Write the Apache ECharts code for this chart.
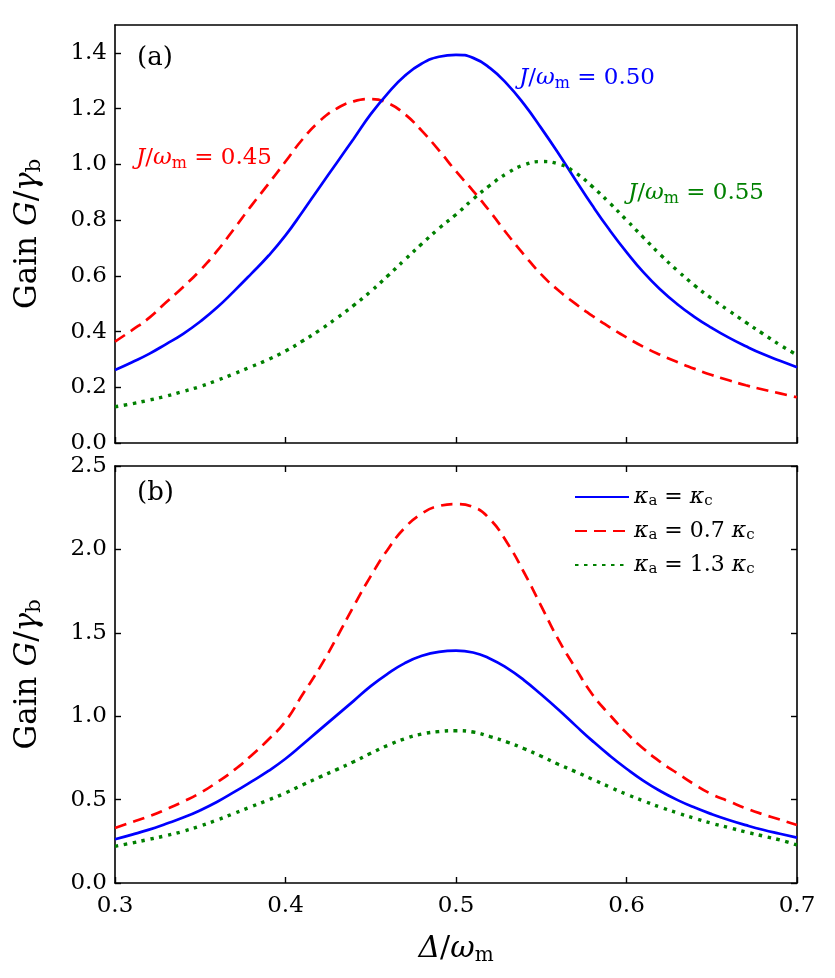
<!DOCTYPE html>
<html>
<head>
<meta charset="utf-8">
<script src="https://cdn.jsdelivr.net/npm/echarts@6/dist/echarts.min.js"></script>
<style>
html,body{margin:0;padding:0;background:#fff;}
#chart{width:835px;height:978px;}
</style>
</head>
<body>
<div id="chart"></div>
<script>
// x values (Δ/ωm)
var xVals = [0.30,0.31,0.32,0.33,0.34,0.35,0.36,0.37,0.38,0.39,0.40,0.41,0.42,0.43,0.44,0.45,0.46,0.47,0.48,0.49,0.50,
             0.51,0.52,0.53,0.54,0.55,0.56,0.57,0.58,0.59,0.60,0.61,0.62,0.63,0.64,0.65,0.66,0.67,0.68,0.69,0.70];

// Panel (a): J/ωm = 0.45, 0.50, 0.55
var gainJ045 = [0.364,0.405,0.449,0.505,0.560,0.620,0.690,0.770,0.852,0.930,1.010,1.090,1.155,1.200,1.226,1.234,1.220,1.180,1.120,1.050,0.975,
                0.905,0.830,0.750,0.675,0.605,0.548,0.500,0.456,0.416,0.379,0.345,0.316,0.290,0.266,0.244,0.225,0.207,0.192,0.178,0.164];
var gainJ050 = [0.262,0.290,0.320,0.355,0.392,0.436,0.487,0.546,0.608,0.672,0.745,0.830,0.918,1.005,1.092,1.180,1.255,1.318,1.362,1.386,1.393,
                1.382,1.345,1.288,1.215,1.130,1.040,0.945,0.852,0.765,0.685,0.612,0.550,0.497,0.452,0.413,0.378,0.347,0.319,0.295,0.272];
var gainJ055 = [0.130,0.141,0.154,0.168,0.185,0.203,0.225,0.249,0.274,0.300,0.330,0.366,0.405,0.448,0.494,0.544,0.600,0.658,0.715,0.770,0.820,
                0.875,0.925,0.968,0.998,1.010,1.002,0.970,0.920,0.862,0.800,0.737,0.675,0.618,0.565,0.518,0.475,0.433,0.392,0.352,0.316];

// Panel (b): κa = κc, 0.7κc, 1.3κc
var gainK10 = gainJ050;
var gainK07 = [0.330,0.365,0.400,0.442,0.488,0.540,0.605,0.678,0.765,0.860,0.970,1.130,1.290,1.470,1.660,1.840,2.000,2.130,2.215,2.260,2.272,
               2.255,2.180,2.040,1.860,1.660,1.460,1.290,1.130,1.010,0.900,0.805,0.725,0.657,0.590,0.532,0.490,0.448,0.412,0.380,0.348];
var gainK13 = [0.220,0.240,0.262,0.284,0.310,0.342,0.378,0.418,0.458,0.498,0.540,0.588,0.635,0.680,0.727,0.778,0.825,0.865,0.893,0.908,0.913,
               0.905,0.878,0.845,0.805,0.760,0.712,0.668,0.622,0.576,0.532,0.492,0.454,0.420,0.388,0.358,0.332,0.306,0.282,0.258,0.228];

var xTicks = [0.3,0.4,0.5,0.6,0.7];
var yTicksA = [0.0,0.2,0.4,0.6,0.8,1.0,1.2,1.4];
var yTicksB = [0.0,0.5,1.0,1.5,2.0,2.5];

function pairs(ys){ return xVals.map(function(x,i){ return [x, ys[i]]; }); }

var FONT = 'DejaVu Serif';
var BLACK = '#000';
var AXLINE = {show:true, onZero:false, lineStyle:{color:BLACK, width:1.6}};
var TICK = {show:true, inside:true, length:6, lineStyle:{color:BLACK, width:1.4}};

function richSet(size, color){
  return {
    t:{fontFamily:FONT, fontSize:size, color:color, fill:color},
    i:{fontFamily:FONT, fontSize:size, fontStyle:'italic', color:color, fill:color},
    sub:{fontFamily:FONT, fontSize:Math.round(size*0.68), color:color, fill:color, padding:[Math.round(size*0.42),0,0,0]}
  };
}

function xAx(grid, pos, labels, ticks, name){
  return {
    type:'value', gridIndex:grid, position:pos, min:0.3, max:0.7, interval:0.1,
    axisLine:AXLINE, axisTick:ticks?TICK:{show:false}, splitLine:{show:false},
    axisLabel:{show:labels, margin:12, fontFamily:FONT, fontSize:23, color:BLACK,
      formatter:function(v){ return v.toFixed(1); }},
    name:name||'', nameLocation:'middle', nameGap:50,
    nameTextStyle:{fontFamily:FONT, fontSize:30, color:BLACK, rich:richSet(30, BLACK)}
  };
}
function yAx(grid, pos, max, interval, labels, ticks, name){
  return {
    type:'value', gridIndex:grid, position:pos, min:0, max:max, interval:interval,
    axisLine:AXLINE, axisTick:ticks?TICK:{show:false}, splitLine:{show:false},
    axisLabel:{show:labels, margin:8, fontFamily:FONT, fontSize:23, color:BLACK,
      showMaxLabel: max===2.5, formatter:function(v){ return v.toFixed(1); }},
    name:name||'', nameLocation:'middle', nameGap:70, nameRotate:90,
    nameTextStyle:{fontFamily:FONT, fontSize:31, color:BLACK, rich:richSet(31, BLACK)}
  };
}

var yName = '{t|Gain }{i|G}{t|/}{i|γ}{sub|b}';

var BLUE = '#0000ff', RED = '#ff0000', GREEN = '#008000';
var DASH = [12,7], DOT = [3.5,5.5];

function line(name, data, color, type, xi, yi, width){
  return {
    name:name, type:'line', xAxisIndex:xi, yAxisIndex:yi, data:pairs(data),
    showSymbol:false, symbol:'none', smooth:true, silent:true, animation:false,
    lineStyle:{color:color, width:width||2.7, type:type, cap:'butt'},
    itemStyle:{color:color}
  };
}

var legendNames = {
  k10:'{i|κ}{sub|a}{t| = }{i|κ}{sub|c}',
  k07:'{i|κ}{sub|a}{t| = 0.7 }{i|κ}{sub|c}',
  k13:'{i|κ}{sub|a}{t| = 1.3 }{i|κ}{sub|c}'
};

var chart = echarts.init(document.getElementById('chart'), null, {renderer:'canvas'});
var option = {
  backgroundColor:'#fff',
  animation:false,
  grid:[
    {left:115, right:38, top:25, height:418},
    {left:115, right:38, top:466, height:417}
  ],
  xAxis:[
    xAx(0,'bottom',false,true),
    xAx(0,'top',false,false),
    xAx(1,'bottom',true,true,'{i|Δ}{t|/}{i|ω}{sub|m}'),
    xAx(1,'top',false,true)
  ],
  yAxis:[
    yAx(0,'left',1.5,0.2,true,true,yName),
    yAx(0,'right',1.5,0.2,false,false),
    yAx(1,'left',2.5,0.5,true,true,yName),
    yAx(1,'right',2.5,0.5,false,true)
  ],
  legend:{
    data:['k10','k07','k13'], orient:'vertical', left:569, top:481,
    itemWidth:54, itemHeight:14, itemGap:11, selectedMode:false,
    itemStyle:{color:'rgba(0,0,0,0)', opacity:0, borderWidth:0},
    formatter:function(n){ return legendNames[n]; },
    textStyle:{fontFamily:FONT, fontSize:22, color:BLACK, rich:richSet(22, BLACK)}
  },
  series:[
    line('J045', gainJ045, RED, DASH, 0, 0),
    line('J050', gainJ050, BLUE, 'solid', 0, 0),
    line('J055', gainJ055, GREEN, DOT, 0, 0, 3.4),
    line('k10', gainK10, BLUE, 'solid', 2, 2),
    line('k07', gainK07, RED, DASH, 2, 2),
    line('k13', gainK13, GREEN, DOT, 2, 2, 3.4)
  ],
  graphic:[
    {type:'text', left:137, top:45, style:{text:'(a)', font:'26px "DejaVu Serif"', fill:BLACK}},
    {type:'text', left:137, top:480, style:{text:'(b)', font:'26px "DejaVu Serif"', fill:BLACK}},
    {type:'text', left:136, top:147, style:{text:'{i|J}{t|/}{i|ω}{sub|m}{t| = 0.45}', rich:richSet(23, RED)}},
    {type:'text', left:519, top:67, style:{text:'{i|J}{t|/}{i|ω}{sub|m}{t| = 0.50}', rich:richSet(23, BLUE)}},
    {type:'text', left:628, top:182, style:{text:'{i|J}{t|/}{i|ω}{sub|m}{t| = 0.55}', rich:richSet(23, GREEN)}}
  ]
};
chart.setOption(option);
</script>
</body>
</html>
